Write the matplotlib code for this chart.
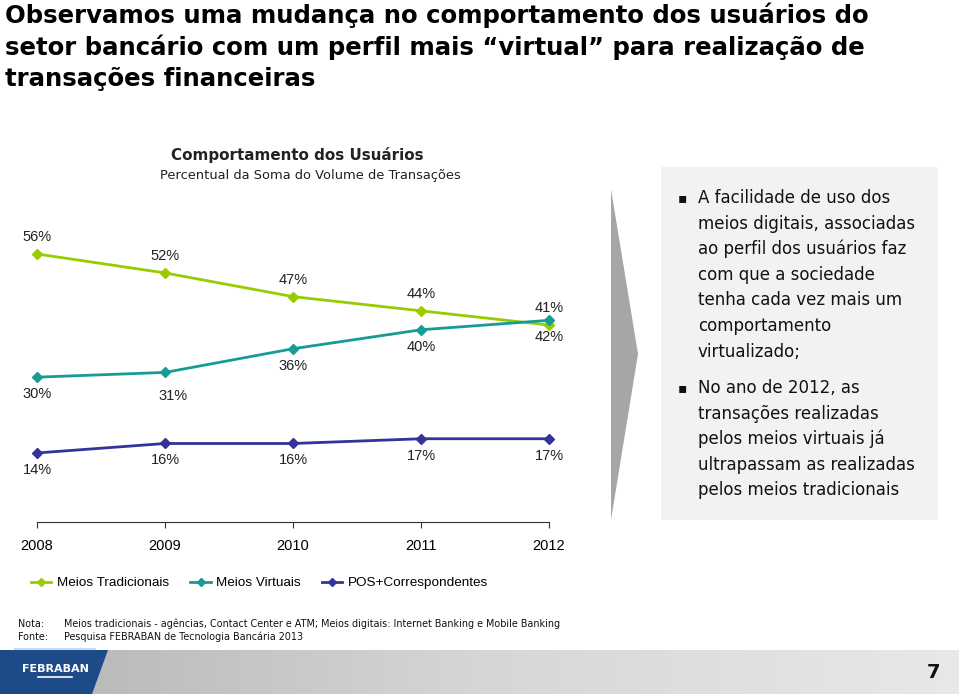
import matplotlib
matplotlib.use('Agg')
import matplotlib.pyplot as plt
import numpy as np
from matplotlib.patches import Polygon, Rectangle

years = ['2008', '2009', '2010', '2011', '2012']
tradicionais = [56, 52, 47, 44, 41]
virtuais = [30, 31, 36, 40, 42]
pos_corresp = [14, 16, 16, 17, 17]
series_names = ['Meios Tradicionais', 'Meios Virtuais', 'POS+Correspondentes']

C_TRAD = '#99cc00'
C_VIRT = '#169c94'
C_POS = '#333399'

W, H = 959, 694
fig = plt.figure(figsize=(W / 100, H / 100), dpi=100)

# background layer in pixel coordinates
bg = fig.add_axes([0, 0, 1, 1])
bg.set_xlim(0, W)
bg.set_ylim(H, 0)
bg.axis('off')

title = ('Observamos uma mudança no comportamento dos usuários do\n'
         'setor bancário com um perfil mais \u201cvirtual\u201d para realização de\n'
         'transações financeiras')
bg.text(5, 2, title, fontsize=17.6, fontweight='bold', family='DejaVu Sans',
        va='top', ha='left', linespacing=1.36, color='#000000')

bg.text(297, 155, 'Comportamento dos Usuários', fontsize=10.9, fontweight='bold',
        family='DejaVu Sans', ha='center', va='center', color='#222222')
bg.text(310, 175, 'Percentual da Soma do Volume de Transações', fontsize=9.4,
        family='DejaVu Sans', ha='center', va='center', color='#222222')

# arrow wedge and text box on the right
bg.add_patch(Polygon([(611, 189), (638, 354), (611, 520)], closed=True,
                     facecolor='#a6a6a6', edgecolor='none'))
bg.add_patch(Rectangle((661, 167), 277, 353, facecolor='#f2f2f2', edgecolor='none'))

bullet1 = ['A facilidade de uso dos', 'meios digitais, associadas',
           'ao perfil dos usuários faz', 'com que a sociedade',
           'tenha cada vez mais um', 'comportamento', 'virtualizado;']
bullet2 = ['No ano de 2012, as', 'transações realizadas',
           'pelos meios virtuais já', 'ultrapassam as realizadas',
           'pelos meios tradicionais']
for block, y0 in [(bullet1, 198), (bullet2, 388)]:
    bg.text(682, y0, '\u25aa', fontsize=10, ha='center', va='center', color='#111111')
    for i, line in enumerate(block):
        bg.text(698, y0 + i * 25.6, line, fontsize=12.0, family='DejaVu Sans',
                ha='left', va='center', color='#111111')

# notes
bg.text(18, 624, 'Nota:', fontsize=6.9, va='center', color='#111111')
bg.text(64, 624, 'Meios tradicionais - agências, Contact Center e ATM; Meios digitais: '
        'Internet Banking e Mobile Banking', fontsize=6.9, va='center', color='#111111')
bg.text(18, 637, 'Fonte:', fontsize=6.9, va='center', color='#111111')
bg.text(64, 637, 'Pesquisa FEBRABAN de Tecnologia Bancária 2013', fontsize=6.9,
        va='center', color='#111111')
bg.plot([15, 95], [648.5, 648.5], color='#bfe0f0', lw=1.5)

# footer bar with gradient
grad = np.linspace(0, 1, 256).reshape(1, -1)
bg.imshow(grad, extent=(0, W, H, 650), cmap=matplotlib.colors.LinearSegmentedColormap.from_list(
    'g', ['#b4b4b4', '#d6d6d6', '#e8e8e8']), aspect='auto', zorder=0)
bg.set_xlim(0, W)
bg.set_ylim(H, 0)
bg.add_patch(Polygon([(0, 650), (108, 650), (92, H), (0, H)], closed=True,
                     facecolor='#1d4b8a', edgecolor='none', zorder=1))
bg.text(55, 669, 'FEBRABAN', fontsize=8, fontweight='bold', color='white',
        ha='center', va='center', zorder=2)
bg.plot([38, 72], [677, 677], color='white', lw=1.2, zorder=2)
bg.text(933, 673, '7', fontsize=14, fontweight='bold', ha='center', va='center',
        color='#111111')

# line chart: x 0..4 maps to px 37..549, value v maps to px 519.3 - 4.738*v
px_left, px_right = 15, 570
px_top, px_bottom = 200, 522
unit_x = 128.0
unit_y = 4.738
ax = fig.add_axes([px_left / W, 1 - px_bottom / H,
                   (px_right - px_left) / W, (px_bottom - px_top) / H])
ax.set_xlim(-(37 - px_left) / unit_x, 4 + (px_right - 549) / unit_x)
ax.set_ylim(-(px_bottom - 519.3) / unit_y, (519.3 - px_top) / unit_y)
ax.patch.set_alpha(0)

x = np.arange(len(years))
l1, = ax.plot(x, tradicionais, color=C_TRAD, lw=2, marker='D', ms=5.5, label=series_names[0])
l2, = ax.plot(x, virtuais, color=C_VIRT, lw=2, marker='D', ms=5.5, label=series_names[1])
l3, = ax.plot(x, pos_corresp, color=C_POS, lw=2, marker='D', ms=5.5, label=series_names[2])

lab_kw = dict(textcoords='offset pixels', ha='center', va='center', fontsize=10.5,
              family='Liberation Sans', color='#222222')
for i, v in enumerate(tradicionais):
    ax.annotate(f'{v}%', (x[i], v), xytext=(0, 17), **lab_kw)
for i, v in enumerate(virtuais):
    off = (8, -24) if i == 1 else (0, -17)
    ax.annotate(f'{v}%', (x[i], v), xytext=off, **lab_kw)
for i, v in enumerate(pos_corresp):
    ax.annotate(f'{v}%', (x[i], v), xytext=(0, -17), **lab_kw)

for s in ['top', 'right', 'left']:
    ax.spines[s].set_visible(False)
ax.spines['bottom'].set_bounds(0, 4)
ax.spines['bottom'].set_color('#333333')
ax.set_yticks([])
ax.set_xticks(x)
ax.set_xticklabels(years, fontsize=10.5, family='Liberation Sans')
ax.tick_params(axis='x', direction='out', length=4, color='#333333', pad=8)

ax.legend(handles=[l1, l2, l3], loc='center left', ncol=3, frameon=False,
          bbox_to_anchor=(19 / W, 1 - 583 / H), bbox_transform=fig.transFigure,
          prop={'family': 'Liberation Sans', 'size': 9.7}, handlelength=1.5,
          handletextpad=0.4, columnspacing=1.6, markerscale=0.8)

fig.savefig('out.png', dpi=100)
